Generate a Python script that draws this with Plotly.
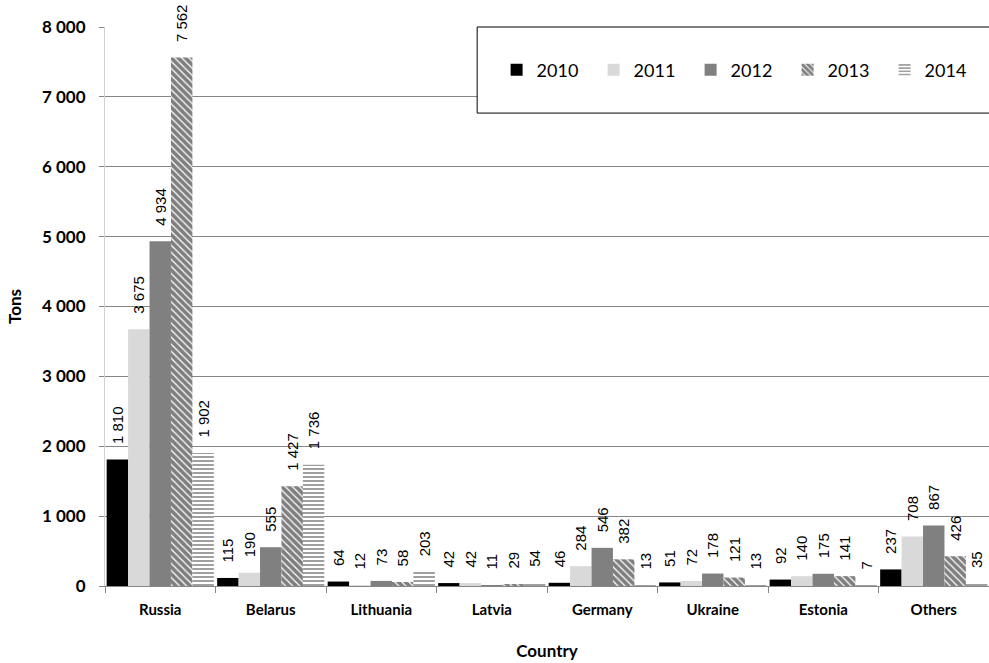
import plotly.graph_objects as go

countries = ["Russia", "Belarus", "Lithuania", "Latvia", "Germany", "Ukraine", "Estonia", "Others"]
years = ["2010", "2011", "2012", "2013", "2014"]
v2010 = [1810, 115, 64, 42, 46, 51, 92, 237]
v2011 = [3675, 190, 12, 42, 284, 72, 140, 708]
v2012 = [4934, 555, 73, 11, 546, 178, 175, 867]
v2013 = [7562, 1427, 58, 29, 382, 121, 141, 426]
v2014 = [1902, 1736, 203, 54, 13, 13, 7, 35]
series = [v2010, v2011, v2012, v2013, v2014]

styles = [
    dict(color="#000000"),
    dict(color="#d9d9d9"),
    dict(color="#808080"),
    dict(color="#ffffff", pattern=dict(shape="\\", fgcolor="#000000", bgcolor="#ffffff", size=5, solidity=0.75)),
    dict(color="#ffffff", pattern=dict(shape="-", fgcolor="#404040", bgcolor="#ffffff", size=4, solidity=0.5)),
]

NB = "\u00a0"
fig = go.Figure()
for name, vals, st in zip(years, series, styles):
    fig.add_trace(go.Bar(
        x=countries, y=vals, name=name,
        marker=dict(line=dict(width=0), **st),
        text=vals, texttemplate=NB * 3 + "%{y:,}", textposition="outside", textangle=-90,
        textfont=dict(family="Liberation Sans", size=15, color="#000000"),
        constraintext="none", cliponaxis=False,
    ))

fig.update_layout(
    width=989, height=663,
    margin=dict(l=105, r=0, t=27, b=77, autoexpand=False),
    paper_bgcolor="white", plot_bgcolor="white",
    barmode="group", bargap=0.03, bargroupgap=0,
    separators=". ",
    showlegend=True,
    legend=dict(orientation="h", x=0.443, y=0.923, xanchor="left", yanchor="middle",
                font=dict(family="Lato", size=18, color="#000000"),
                bgcolor="rgba(0,0,0,0)", borderwidth=0, entrywidth=52, itemwidth=30,
                traceorder="normal"),
    shapes=[dict(type="rect", xref="paper", yref="paper", x0=0.421, x1=1.02, y0=0.846, y1=1.0,
                 line=dict(color="#000000", width=1), fillcolor="white", layer="above")],
    xaxis=dict(
        title=dict(text="Country", font=dict(family="Lato", size=17, color="#000000", weight="bold"), standoff=28),
        tickfont=dict(family="Lato", size=15, color="#000000", weight="bold"),
        ticklabelstandoff=10,
        showline=True, linecolor="#868686", linewidth=1,
        ticks="outside", tickson="boundaries", ticklen=6, tickcolor="#868686",
        showgrid=False,
    ),
    yaxis=dict(
        title=dict(text="Tons", font=dict(family="Lato", size=17, color="#000000", weight="bold"), standoff=16),
        tickfont=dict(family="Lato", size=17, color="#000000", weight="bold"),
        ticklabelstandoff=10,
        range=[0, 8000], tickvals=[0, 1000, 2000, 3000, 4000, 5000, 6000, 7000, 8000],
        tickformat=",",
        showgrid=True, gridcolor="#868686", gridwidth=1,
        showline=True, linecolor="#d0d0d0", linewidth=1,
        ticks="outside", ticklen=5, tickcolor="#868686",
        zeroline=False,
    ),
)

fig.write_html("out.html", config={"displayModeBar": False},
               post_script="document.body.style.margin='0';")
